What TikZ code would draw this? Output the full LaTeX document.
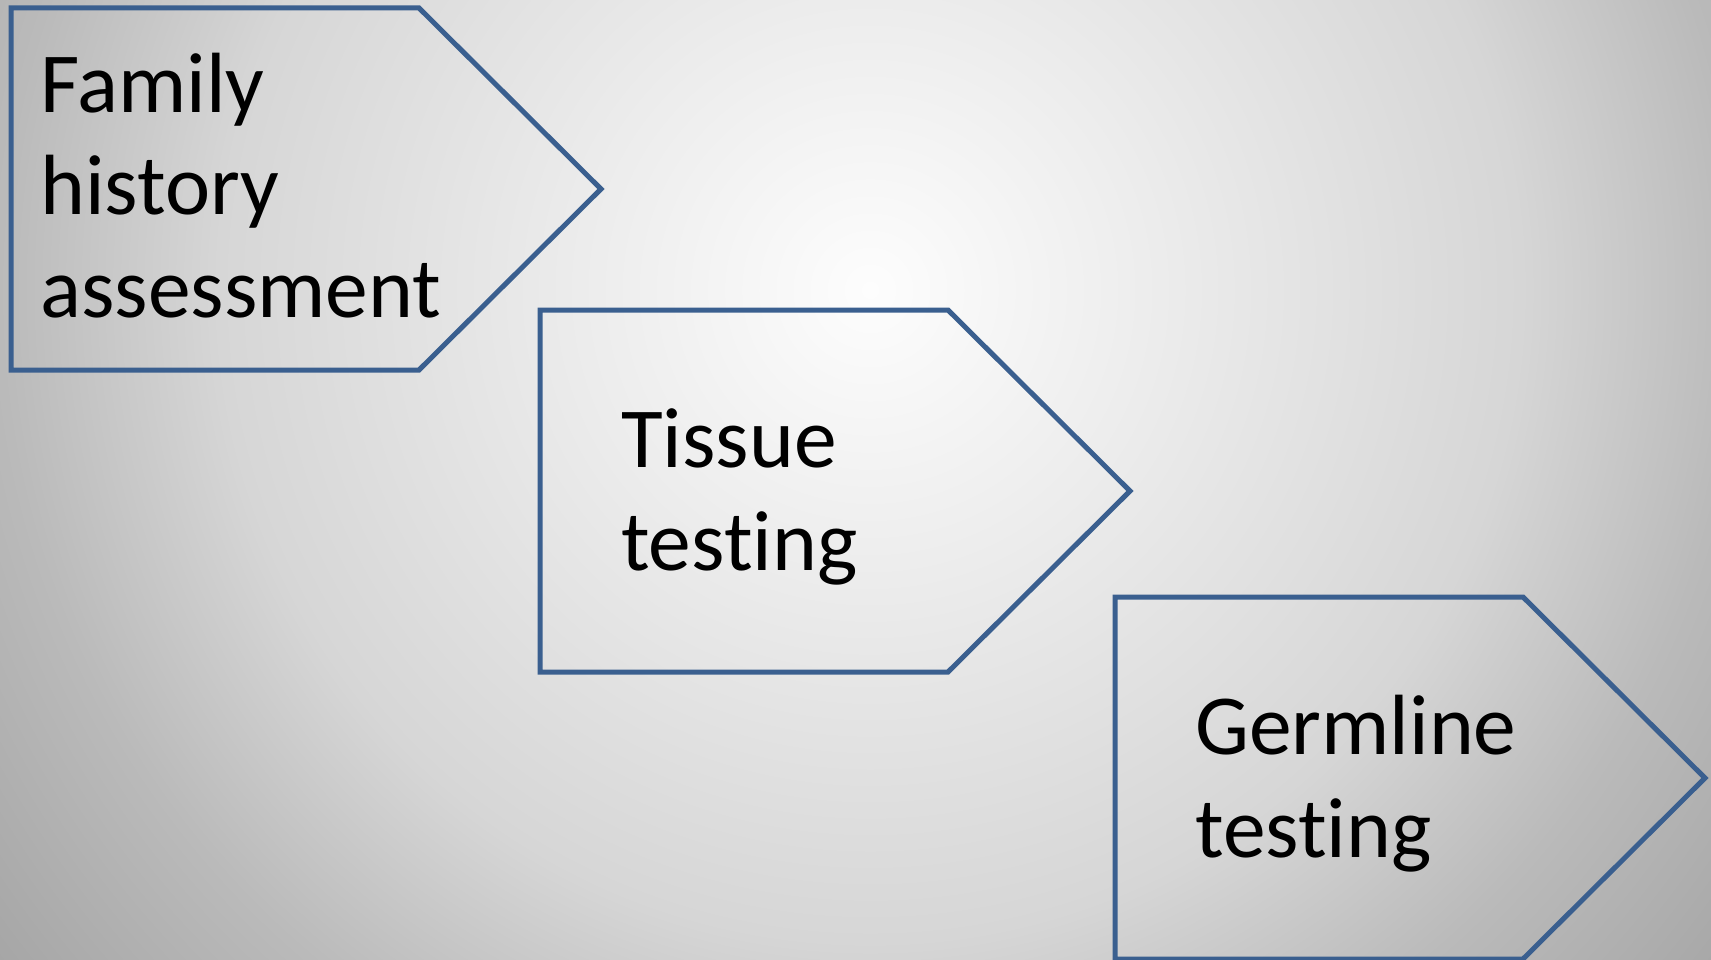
\documentclass[tikz,border=0pt]{standalone}
\usepackage{fontspec}
\setmainfont{Carlito}[Ligatures=NoCommon]
\usetikzlibrary{positioning}

\definecolor{stepblue}{RGB}{58,95,143}
\definecolor{glowA}{RGB}{253,253,253}
\definecolor{glowB}{RGB}{236,236,236}
\definecolor{glowC}{RGB}{214,214,214}
\definecolor{glowD}{RGB}{186,186,186}
\definecolor{glowE}{RGB}{166,166,166}

% soft light spot behind the steps
\pgfdeclareradialshading{backglow}{\pgfpoint{0bp}{0bp}}{%
  color(0bp)=(glowA); color(6.6bp)=(glowB); color(14.8bp)=(glowC);
  color(19.8bp)=(glowD); color(25bp)=(glowE); color(50bp)=(glowE)}

\tikzset{
  stepline/.style={draw=stepblue, line width=5pt, line join=miter},
  steplabel/.style={font=\fontsize{85.5}{102.5}\selectfont, align=left,
    inner sep=0pt, text=black},
}

\begin{document}
\begin{tikzpicture}[x=1pt, y=-1pt]
  \useasboundingbox (0,0) rectangle (1711,960);
  \clip (0,0) rectangle (1711,960);
  \shade[shading=backglow] (-230,-810) rectangle (1970,1390);

  % the three steps, each a box with a pointed right end
  \foreach \sx/\sy in {11/8, 540/310, 1115/597}
    \draw[stepline] (\sx,\sy) -- +(408,0) -- +(590,181) -- +(408,362)
      -- +(0,362) -- cycle;

  % base anchor sits on the last line
  \node[steplabel, anchor=base west] (family) at (40,317)
    {Family\\history\\assessment};
  \node[steplabel, anchor=base west] (tissue) at (621,570)
    {Tissue\\testing};
  \node[steplabel, anchor=base west] (germline) at (1195,857)
    {Germline\\testing};
\end{tikzpicture}
\end{document}
